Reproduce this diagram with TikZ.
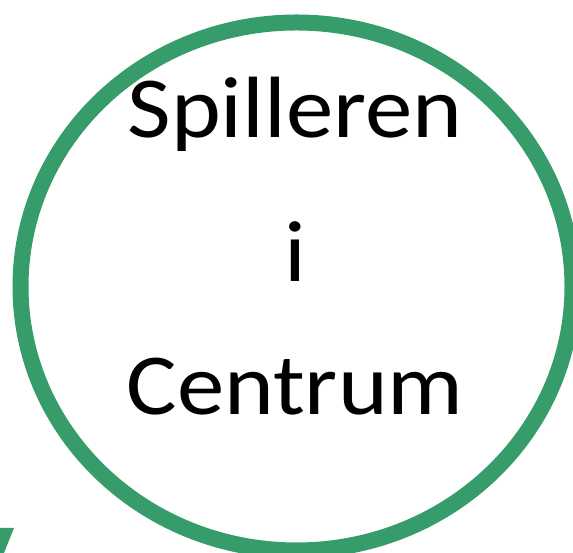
\documentclass[tikz,border=0pt]{standalone}
\usepackage{fontspec}
\setmainfont{Carlito}
\usetikzlibrary{positioning}
\definecolor{ringgreen}{RGB}{53,156,106}
\tikzset{
  ring/.style={draw=ringgreen, line width=16pt},
  bigword/.style={font=\fontsize{87}{104}\selectfont, anchor=base, inner sep=0pt, text=black}
}
\newcommand{\wideword}[1]{\scalebox{1.09}[1]{#1}}

\begin{document}
\begin{tikzpicture}[x=1pt, y=1pt]
  \useasboundingbox (0,0) rectangle (573,553);
  \draw[ring] (296.5,266.5) ellipse [x radius=276, y radius=264];
  \node[bigword] (top) at (295,415) {\wideword{Spilleren}};
  \node[bigword] (mid) at (295,271) {\wideword{i}};
  \node[bigword] (low) at (295,138) {\wideword{Centrum}};
  % scrap of a green letter at the lower left
  \fill[ringgreen] (0,25) -- (14,25) -- (4,0) -- (0,0) -- cycle;
\end{tikzpicture}
\end{document}
